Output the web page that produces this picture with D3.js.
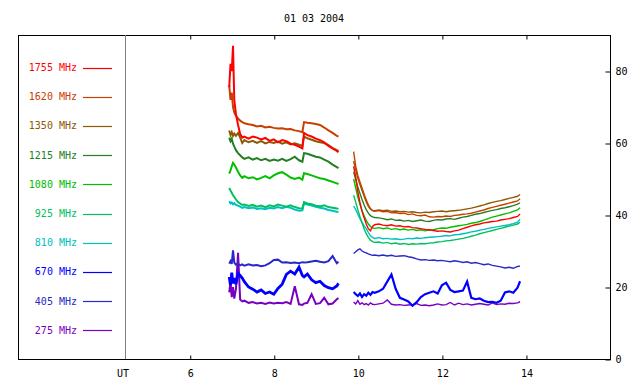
<!DOCTYPE html>
<html><head><meta charset="utf-8">
<script src="https://cdn.jsdelivr.net/npm/d3@7"></script>
<style>body{margin:0;background:#fff}text{font-family:"DejaVu Sans Mono",monospace;font-size:10px}</style>
</head><body><svg id="c" width="640" height="384"></svg>
<script>
const title = "01 03 2004";
const xLabel = "UT";
const xTicks = [6, 8, 10, 12, 14];
const yTicks = [0, 20, 40, 60, 80];
const freqLabels = ["1755 MHz","1620 MHz","1350 MHz","1215 MHz","1080 MHz","925 MHz","810 MHz","670 MHz","405 MHz","275 MHz"];
const colors = ["#ff0000","#c84000","#8c5a00","#228022","#00c000","#00c060","#00c0c0","#0000ff","#2828c8","#7800c0"];

// segment 1 times (UT hours)
const t1 = [6.94,6.97,7.0,7.03,7.06,7.1,7.15,7.2,7.25,7.3,7.4,7.5,7.6,7.7,7.8,7.9,8.0,8.1,8.2,8.3,8.4,8.5,8.6,8.68,8.72,8.8,8.9,9.0,9.1,9.2,9.3,9.4,9.5,9.54];
// segment 2 times
const t2 = [9.9,9.95,10.0,10.05,10.1,10.15,10.2,10.25,10.3,10.35,10.4,10.5,10.6,10.7,10.8,10.9,11.0,11.1,11.2,11.3,11.4,11.5,11.6,11.7,11.8,11.9,12.0,12.1,12.2,12.3,12.4,12.5,12.6,12.7,12.8,12.9,13.0,13.1,13.2,13.3,13.4,13.5,13.6,13.7,13.8,13.86];

const f1755a = [75.5,82,80,87,72,68,65,62.5,61.5,61.8,61.2,61.8,61.5,61.0,61.4,60.6,61.0,60.2,60.8,60.5,59.8,59.5,59.0,58.5,62.8,62.2,61.8,61.2,60.8,60.2,59.2,58.5,57.8,57.4];
const f1755b = [53.5,50.5,46.5,43.5,41.0,39.2,37.5,36.2,35.6,36.8,37.3,37.5,37.2,37.0,37.3,36.9,37.0,36.7,36.8,36.5,36.4,36.2,36.0,35.9,35.7,35.5,35.6,35.4,35.3,35.6,35.8,36.2,36.6,37.0,37.3,37.5,37.8,38.0,38.2,38.3,38.6,38.8,39.0,39.3,39.6,40.3];
const f1620a = [76,72,74,70,68.5,67.5,66.8,66.2,65.8,65.5,65.2,65.0,64.6,64.8,64.3,64.5,64.2,64.0,64.1,63.8,63.9,63.5,63.3,63.0,65.8,65.6,65.5,65.3,65.0,64.3,63.5,62.8,62.0,61.8];
const f1620b = [57.6,53.5,51.0,49.2,47.5,45.8,44.2,42.8,41.8,41.2,41.0,41.2,40.9,41.0,40.6,40.7,40.4,40.5,40.1,40.3,39.9,39.8,40.0,39.5,39.4,39.6,39.5,39.7,39.6,39.9,40.0,40.2,40.3,40.5,40.8,41.1,41.4,41.8,42.1,42.4,42.7,43.0,43.3,43.6,43.9,44.5];
const f1350a = [63.5,62.2,63.0,62.0,62.6,62.0,62.8,61.5,60.0,60.8,60.2,60.6,60.0,60.5,59.9,60.3,60.0,60.4,59.8,60.2,59.6,59.9,59.5,59.2,61.8,61.3,60.9,60.5,60.2,60.0,59.4,58.6,58.0,57.8];
const f1350b = [55.0,52.5,50.2,48.5,46.8,45.2,43.6,42.4,41.6,41.3,41.2,41.4,41.2,41.3,41.0,41.1,40.9,41.0,40.8,40.9,40.7,40.6,40.8,40.7,40.9,41.0,41.1,40.9,41.1,41.2,41.3,41.5,41.7,41.9,42.2,42.5,42.8,43.2,43.5,43.8,44.0,44.3,44.6,44.9,45.2,45.7];
const f1215a = [61.5,60.5,61.2,59.8,59.0,58.0,57.2,56.6,56.0,55.6,56.0,55.4,55.8,55.2,55.6,55.0,55.4,55.1,55.6,55.0,55.5,56.2,55.2,54.8,57.2,57.0,56.6,56.2,56.0,55.4,54.8,54.0,53.3,53.0];
const f1215b = [52.0,49.8,47.8,46.0,44.3,42.8,41.5,40.5,39.8,39.5,39.3,39.2,39.0,38.7,38.9,38.5,38.6,38.3,38.5,38.2,38.4,38.6,38.3,38.2,38.5,38.7,38.6,38.9,39.0,38.8,39.1,39.4,39.6,39.9,40.2,40.4,40.7,41.0,41.3,41.5,41.8,42.0,42.3,42.6,43.0,43.4];
const f1080a = [51.5,52.4,53.5,54.5,54.0,53.2,52.0,51.0,50.3,50.8,50.2,50.5,49.9,50.3,50.8,50.2,51.0,51.6,51.9,51.2,50.4,50.0,50.4,49.8,51.6,51.4,51.0,50.6,50.2,50.0,49.6,49.2,48.8,48.6];
const f1080b = [50.0,47.5,45.0,43.0,41.2,39.8,38.5,37.5,36.8,36.4,36.3,36.5,36.2,36.4,36.0,36.2,35.9,36.1,35.8,36.0,35.7,35.9,35.6,35.8,35.9,36.2,36.4,36.3,36.6,36.8,37.0,37.2,37.4,37.7,37.9,38.2,38.6,39.0,39.4,39.7,40.0,40.3,40.6,41.0,41.4,42.0];
const f925a = [47.5,46.8,46.2,45.5,45.0,44.3,43.6,43.2,42.8,42.9,42.5,42.8,42.3,42.6,42.2,42.7,42.4,42.9,42.6,42.3,42.7,42.2,41.9,41.8,43.6,43.2,43.0,42.6,42.4,42.7,42.2,42.0,41.8,41.7];
const f925b = [45.5,43.5,41.5,39.5,37.8,36.2,34.8,33.8,33.0,32.6,32.4,32.5,32.2,32.4,32.0,32.2,31.9,32.1,31.8,32.0,31.9,32.1,32.0,32.2,32.3,32.5,32.6,32.8,32.9,33.1,33.3,33.5,33.8,34.1,34.4,34.8,35.1,35.4,35.7,36.0,36.3,36.6,36.9,37.2,37.5,38.0];
const f810a = [43.8,43.2,43.5,43.0,43.3,42.8,42.6,42.3,42.0,42.2,41.9,42.1,41.7,41.9,41.6,42.0,41.8,42.2,41.9,42.3,42.0,41.5,41.2,41.3,43.2,42.9,42.6,42.3,42.0,41.8,41.4,41.2,40.9,40.8];
const f810b = [42.5,41.5,40.2,39.0,38.0,37.0,36.2,35.2,34.2,33.8,33.5,33.7,33.4,33.5,33.3,33.4,33.2,33.3,33.5,33.4,33.6,33.5,33.7,33.8,33.9,34.0,34.1,34.3,34.2,34.5,34.6,34.8,35.0,35.3,35.5,35.8,36.0,36.3,36.5,36.7,36.9,37.1,37.3,37.6,38.0,38.8];
const f670a = [22.8,20.5,24.0,21.0,22.5,20.8,23.8,23.2,22.5,21.5,20.0,19.4,18.6,19.2,18.2,18.6,18.0,19.6,20.8,23.5,24.4,23.6,25.5,23.2,22.8,23.6,22.0,21.2,21.6,20.4,19.8,19.5,20.3,21.0];
const f670b = [18.6,18.0,17.5,18.2,17.2,18.0,17.6,18.4,17.8,18.6,18.4,18.8,19.5,21.5,23.5,19.5,17.0,16.5,16.0,14.8,15.8,17.2,18.0,18.4,18.8,18.2,20.5,21.2,19.2,18.6,18.8,19.0,21.5,17.0,16.6,16.8,16.2,15.8,15.9,15.6,16.2,18.5,18.8,18.4,19.8,21.6];
const f405a = [26.5,27.2,26.4,30.2,26.8,26.2,26.5,26.0,26.3,25.9,26.3,26.0,26.1,25.8,26.0,26.6,27.5,27.6,26.8,26.9,26.7,26.8,26.6,26.9,26.8,26.9,27.1,27.3,27.0,26.8,27.2,28.6,26.6,27.0];
const f405b = [29.3,29.8,30.3,30.6,30.0,29.7,29.5,29.2,29.0,28.8,28.9,28.7,28.9,28.6,28.8,28.5,28.6,28.7,28.4,28.2,27.8,27.5,27.6,27.4,27.5,27.3,27.4,27.2,27.0,27.3,27.1,26.8,27.0,26.6,26.8,26.5,26.2,26.4,26.0,25.8,25.6,25.3,25.5,25.2,25.7,25.8];
const f275a = [18.5,21.5,17.2,20.0,16.8,19.5,29.5,16.5,16.0,16.2,15.6,15.8,15.4,15.6,15.3,15.7,15.4,15.6,15.5,15.8,15.3,20.2,15.2,15.0,15.4,15.6,18.0,15.3,15.5,17.0,15.2,15.4,16.6,16.9];
const f275b = [15.8,15.3,16.2,15.2,15.6,15.1,15.4,15.0,15.6,15.2,15.1,15.3,15.5,16.4,15.2,15.0,15.1,14.9,15.0,15.1,15.4,14.9,15.0,14.8,15.0,15.3,15.0,15.1,15.7,15.0,15.5,15.1,15.3,15.0,15.2,15.4,15.2,15.0,15.6,15.1,15.3,15.2,15.5,15.4,15.6,15.9];

const series = [
  [f1755a, f1755b], [f1620a, f1620b], [f1350a, f1350b], [f1215a, f1215b], [f1080a, f1080b],
  [f925a, f925b], [f810a, f810b], [f670a, f670b], [f405a, f405b], [f275a, f275b]
];

const svg = d3.select("#c");
const frame = {left: 18, right: 610, top: 35, bottom: 359};
const utX = 125;
const x = d3.scaleLinear().domain([4.46, 16.0]).range([utX, frame.right]);
const y = d3.scaleLinear().domain([0, 90]).range([frame.bottom, frame.top]);

// frame
svg.append("rect").attr("x", frame.left + 0.5).attr("y", frame.top + 0.5)
  .attr("width", frame.right - frame.left).attr("height", frame.bottom - frame.top)
  .attr("fill", "none").attr("stroke", "#000").attr("stroke-width", 1);
svg.append("line").attr("x1", utX + 0.5).attr("x2", utX + 0.5)
  .attr("y1", frame.top).attr("y2", frame.bottom)
  .attr("stroke", "#808080").attr("stroke-width", 1);

// axes
const gb = svg.append("g").attr("transform", `translate(0.5,${frame.bottom + 0.5})`)
  .call(d3.axisBottom(x).tickValues(xTicks).tickSizeInner(-4).tickSizeOuter(0).tickPadding(10));
const gt = svg.append("g").attr("transform", `translate(0.5,${frame.top + 0.5})`)
  .call(d3.axisTop(x).tickValues(xTicks).tickSizeInner(-4).tickSizeOuter(0).tickFormat(""));
const gr = svg.append("g").attr("transform", `translate(${frame.right + 0.5},0.5)`)
  .call(d3.axisRight(y).tickValues(yTicks).tickSizeInner(-5).tickSizeOuter(0).tickPadding(5));
[gb, gt, gr].forEach(g => {
  g.select(".domain").remove();
  g.selectAll("text").attr("font-family", "DejaVu Sans Mono").attr("font-size", 10).attr("fill", "#000");
  g.selectAll("line").attr("stroke", "#000");
});

svg.append("text").attr("x", 123).attr("y", 377).attr("text-anchor", "middle").text(xLabel);
svg.append("text").attr("x", 314).attr("y", 22).attr("text-anchor", "middle").text(title);

// data lines (draw lower frequencies first)
const line = d3.line().x(d => x(d[0])).y(d => y(d[1]));
for (let i = series.length - 1; i >= 0; i--) {
  const [a, b] = series[i];
  [[t1, a, 2.0], [t2, b, 1.4]].forEach(([tt, vv, w]) => {
    svg.append("path").datum(tt.map((t, k) => [t, vv[k]]))
      .attr("d", line).attr("fill", "none").attr("stroke", colors[i])
      .attr("stroke-width", i === 7 ? w + 0.8 : w).attr("stroke-linejoin", "miter");
  });
}

// legend
freqLabels.forEach((lab, i) => {
  const cy = 67.5 + i * 29.2;
  svg.append("text").attr("x", 77).attr("y", cy + 3.5).attr("text-anchor", "end")
    .attr("fill", colors[i]).text(lab);
  svg.append("line").attr("x1", 83).attr("x2", 112).attr("y1", Math.round(cy) + 0.5).attr("y2", Math.round(cy) + 0.5)
    .attr("stroke", colors[i]).attr("stroke-width", 1.2);
});
</script></body></html>
